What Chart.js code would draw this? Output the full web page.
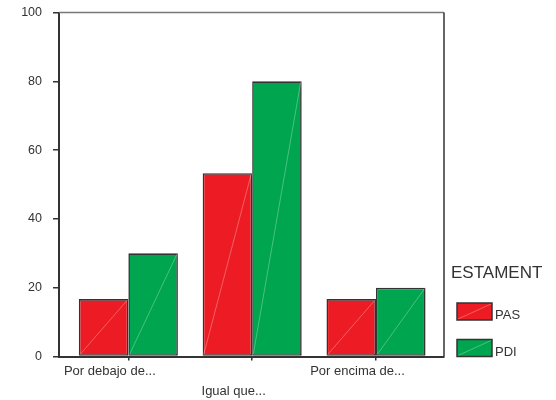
<!DOCTYPE html>
<html>
<head>
<meta charset="utf-8">
<script src="https://cdn.jsdelivr.net/npm/chart.js@4.4.1/dist/chart.umd.min.js"></script>
<style>
html,body{margin:0;padding:0;background:#fff;}
#wrap{width:556px;height:400px;position:relative;}
</style>
</head>
<body>
<div id="wrap"><canvas id="c" width="556" height="400"></canvas></div>
<script>
const categories = ['Por debajo de...', 'Igual que...', 'Por encima de...'];
const pasValues = [16.7, 53.3, 16.7];
const pdiValues = [30, 80, 20];
const seriesNames = ['PAS', 'PDI'];
const yTicks = [0, 20, 40, 60, 80, 100];
const legendTitle = 'ESTAMENT';

const FONT = "Arial, 'Liberation Sans', Helvetica, sans-serif";
const RED = '#ED1C24';
const GREEN = '#00A54F';
const DARK = '#333333';

function toPoints(vals){ return vals.map((v,i)=>({x:i, y:v})); }

const diagPlugin = {
  id: 'diag',
  afterDatasetsDraw(chart){
    const ctx = chart.ctx;
    ctx.save();
    ctx.strokeStyle = 'rgba(255,255,255,0.42)';
    ctx.lineWidth = 0.7;
    chart.data.datasets.forEach((ds, di) => {
      const meta = chart.getDatasetMeta(di);
      meta.data.forEach(bar => {
        const p = bar.getProps(['x','y','base','width'], true);
        const l = p.x - p.width/2, r = p.x + p.width/2;
        ctx.beginPath();
        ctx.moveTo(l+1, p.base-1);
        ctx.lineTo(r-1, p.y+1);
        ctx.stroke();
      });
    });
    ctx.restore();
  }
};

const framePlugin = {
  id: 'frame',
  afterDraw(chart){
    const ctx = chart.ctx, a = chart.chartArea;
    ctx.save();
    ctx.strokeStyle = '#777';
    ctx.lineWidth = 1.5;
    ctx.beginPath();
    ctx.moveTo(a.left, a.top);
    ctx.lineTo(a.right, a.top);
    ctx.stroke();
    ctx.strokeStyle = DARK;
    ctx.beginPath();
    ctx.moveTo(a.right, a.top);
    ctx.lineTo(a.right, a.bottom);
    ctx.stroke();

    // legend
    const lx = a.right + 7;
    ctx.fillStyle = DARK;
    ctx.font = '17px ' + FONT;
    ctx.textBaseline = 'alphabetic';
    ctx.textAlign = 'left';
    ctx.fillText(legendTitle, lx, 277.5);
    chart.data.datasets.forEach((ds, i) => {
      const bx = a.right + 13, by = 303 + i*36.5, bw = 35, bh = 17;
      ctx.fillStyle = ds.backgroundColor;
      ctx.fillRect(bx, by, bw, bh);
      ctx.strokeStyle = 'rgba(255,255,255,0.42)';
      ctx.lineWidth = 0.7;
      ctx.beginPath();
      ctx.moveTo(bx+1, by+bh-1);
      ctx.lineTo(bx+bw-1, by+1);
      ctx.stroke();
      ctx.strokeStyle = DARK;
      ctx.lineWidth = 1.5;
      ctx.strokeRect(bx, by, bw, bh);
      ctx.fillStyle = DARK;
      ctx.font = '13px ' + FONT;
      ctx.fillText(ds.label, bx + bw + 3, by + 16);
    });
    ctx.restore();
  }
};

new Chart(document.getElementById('c'), {
  type: 'bar',
  data: {
    datasets: [
      { label: seriesNames[0], data: toPoints(pasValues), backgroundColor: RED, borderColor: DARK, borderWidth: 1.6, borderSkipped: false },
      { label: seriesNames[1], data: toPoints(pdiValues), backgroundColor: GREEN, borderColor: DARK, borderWidth: 1.6, borderSkipped: false }
    ]
  },
  options: {
    responsive: false,
    animation: false,
    events: [],
    layout: { padding: { top: 12.5, right: 112, left: 0, bottom: 0 } },
    datasets: { bar: { categoryPercentage: 0.8, barPercentage: 1.0 } },
    plugins: { legend: { display: false }, tooltip: { enabled: false } },
    scales: {
      x: {
        type: 'linear',
        min: -0.56,
        max: 2.549,
        offset: false,
        afterFit(s){ s.height = 43.5; s.paddingLeft = 0; s.paddingRight = 0; },
        border: { display: true, color: DARK, width: 2 },
        grid: { display: true, offset: false, drawOnChartArea: false, drawTicks: true, tickLength: 4, color: DARK, lineWidth: 1.5 },
        ticks: {
          stepSize: 1,
          includeBounds: false,
          autoSkip: false,
          maxRotation: 0,
          labelOffset: -18.5,
          padding: 1,
          color: DARK,
          font: { family: FONT, size: 13, lineHeight: 1.54 },
          callback: (v) => {
            const i = Math.round(v);
            if (Math.abs(v - i) > 1e-6 || i < 0 || i >= categories.length) return '';
            return i % 2 === 1 ? ['', categories[i]] : categories[i];
          }
        }
      },
      y: {
        min: 0,
        max: 100,
        afterFit(s){ s.width = 59; s.paddingTop = 0; s.paddingBottom = 0; },
        afterBuildTicks(s){ s.ticks = yTicks.map(v => ({value: v})); },
        border: { display: true, color: DARK, width: 2 },
        grid: { display: true, drawOnChartArea: false, drawTicks: true, tickLength: 6, color: DARK, lineWidth: 1.5 },
        ticks: {
          padding: 11,
          color: DARK,
          font: { family: FONT, size: 12.5 }
        }
      }
    }
  },
  plugins: [diagPlugin, framePlugin]
});
</script>
</body>
</html>
